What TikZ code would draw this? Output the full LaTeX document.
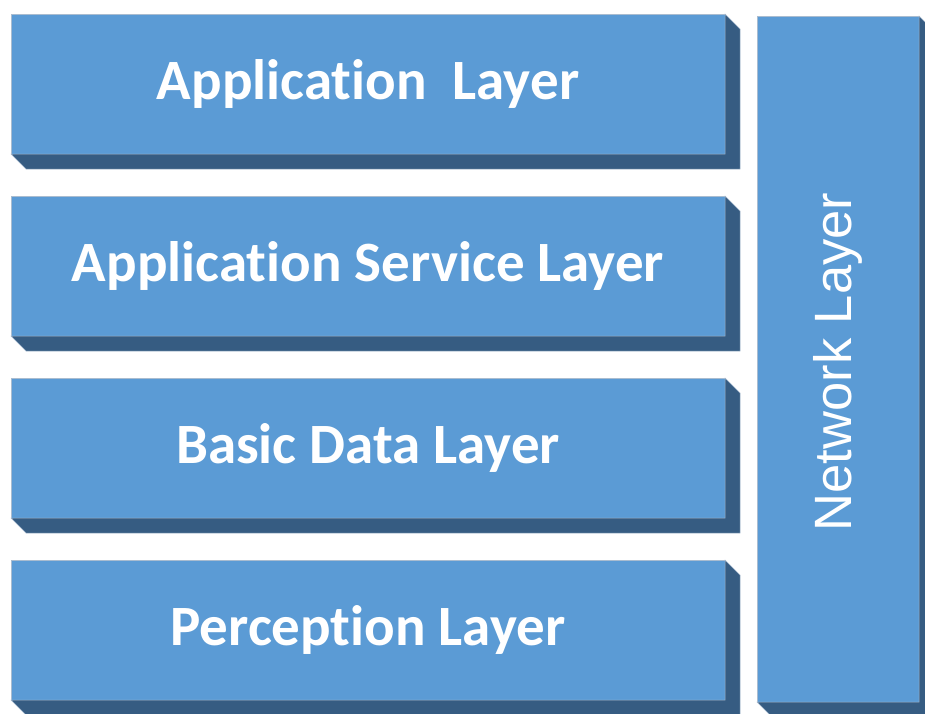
\documentclass[tikz,border=0pt]{standalone}
\usepackage{fontspec}
\newfontfamily\labelfont[Ligatures=NoCommon]{Carlito}
\newfontfamily\netfont{Liberation Sans}
\definecolor{frontblue}{HTML}{5B9BD5}
\definecolor{sideblue}{HTML}{365C82}
\definecolor{edgegray}{HTML}{A9BCD0}
\tikzset{
  layer/.style={rectangle, fill=frontblue, draw=edgegray, line width=0.8pt,
    minimum width=714pt, minimum height=140pt, inner sep=0pt, outer sep=0pt,
    anchor=north west, text=white,
    font=\labelfont\bfseries\fontsize{57}{57}\selectfont},
  netbox/.style={rectangle, fill=frontblue, draw=edgegray, line width=0.8pt,
    minimum width=162pt, minimum height=686pt, inner sep=0pt, outer sep=0pt,
    anchor=north west},
  netlabel/.style={text=white, rotate=90, inner sep=0pt,
    font=\netfont\fontsize{52.5}{52.5}\selectfont},
  side/.style={fill=sideblue, draw=edgegray, line width=0.5pt, line join=miter},
}
% extruded depth of every slab
\newcommand\slabdepth{15}
\newcommand\extrude[1]{%
  \filldraw[side] (#1.north east) -- ++(\slabdepth,\slabdepth)
    -- ([shift={(\slabdepth,\slabdepth)}]#1.south east)
    -- ([shift={(\slabdepth,\slabdepth)}]#1.south west)
    -- (#1.south west) -- (#1.south east) -- cycle;}
\begin{document}
\begin{tikzpicture}[x=1pt,y=-1pt]
  \useasboundingbox (0,0) rectangle (925,713);
  \clip (0,0) rectangle (925,713);

  \node[layer] (app)   at (11,14)  {Application\ \ Layer};
  \node[layer] (svc)   at (11,196) {Application Service Layer};
  \node[layer] (data)  at (11,378) {Basic Data Layer};
  \node[layer] (perc)  at (11,560) {Perception Layer};
  \node[netbox] (net)  at (757,16) {};
  \node[netlabel] (nettext) at ([yshift=-3pt]net.center) {Network Layer};

  \extrude{app}
  \extrude{svc}
  \extrude{data}
  \extrude{perc}
  \extrude{net}
\end{tikzpicture}
\end{document}
